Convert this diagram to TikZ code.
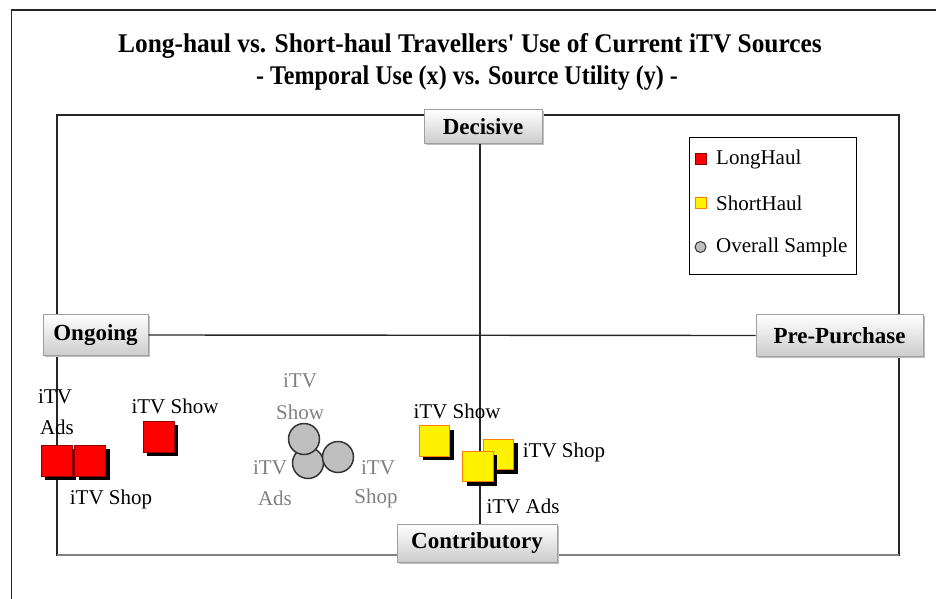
\documentclass[tikz,border=0pt]{standalone}
\usepackage{fontspec}
\setmainfont{Liberation Serif}[Ligatures=TeXOff]
\usetikzlibrary{shadows}
\begin{document}
\begin{tikzpicture}[x=1pt,y=-1pt,
  axbox/.style={draw=gray!75, line width=1pt, top color=white, bottom color=gray!40,
    font=\bfseries\fontsize{23}{23}\selectfont, inner sep=0pt,
    drop shadow={shadow xshift=1.5pt,shadow yshift=-1.5pt,fill=gray!50,opacity=1}},
  lhsq/.style={rectangle, fill=red, draw=red!55!black, line width=1pt, minimum size=31pt, inner sep=0pt,
    drop shadow={shadow xshift=4pt,shadow yshift=-4pt,fill=black,opacity=1}},
  shsq/.style={rectangle, fill=yellow, draw=orange, line width=1.3pt, minimum size=30.5pt, inner sep=0pt,
    drop shadow={shadow xshift=4pt,shadow yshift=-4pt,fill=black,opacity=1}},
  ovc/.style={circle, fill=gray!50, draw=black!80, line width=1.5pt, minimum size=31pt, inner sep=0pt},
  lbl/.style={font=\fontsize{21}{21}\selectfont, inner sep=0pt},
  glbl/.style={lbl, text=gray},
  legtxt/.style={font=\fontsize{21}{21}\selectfont, anchor=west, inner sep=0pt},
  ttl/.style={font=\bfseries\fontsize{27}{27}\selectfont, inner sep=0pt},
  axline/.style={line width=1.4pt, black!85}
]
\useasboundingbox (0,0) rectangle (936,599);
% outer frame
\draw[line width=1.6pt, black!85] (11.5,599) -- (11.5,10) -- (936,10);
% title
\node[ttl] (t1) at (470,46) {\scalebox{0.94}[1]{Long-haul vs. Short-haul Travellers' Use of Current iTV Sources}};
\node[ttl] (t2) at (467,78) {\scalebox{0.89}[1]{- Temporal Use (x) vs. Source Utility (y) -}};
% plot frame
\draw[line width=1.2pt, black!85] (57,115) rectangle (899,555);
\draw[line width=1.6pt, gray] (57,555) -- (899,555);
% legend
\node[draw, line width=0.9pt, minimum width=167pt, minimum height=137pt, anchor=north west, inner sep=0pt] (leg) at (689,137) {};
\node[rectangle, fill=red, draw=red!55!black, line width=1pt, minimum size=11pt, inner sep=0pt] (legLH) at (700.5,158.5) {};
\node[legtxt] (legLHt) at (716,159) {LongHaul};
\node[rectangle, fill=yellow, draw=orange, line width=1pt, minimum size=11pt, inner sep=0pt] (legSH) at (700.5,203) {};
\node[legtxt] (legSHt) at (716,203) {ShortHaul};
\node[circle, fill=gray!50, draw=black!80, line width=1pt, minimum size=11pt, inner sep=0pt] (legOV) at (700.5,247) {};
\node[legtxt] (legOVt) at (716,247) {Overall Sample};
% axis boxes
\node[axbox, minimum width=118pt, minimum height=33pt] (dec) at (483,126.5) {Decisive};
\node[axbox, minimum width=105pt, minimum height=41pt] (ong) at (95.5,335) {Ongoing};
\node[axbox, minimum width=167pt, minimum height=42pt] (pre) at (839.5,335.5) {Pre-Purchase};
\node[axbox, minimum width=160pt, minimum height=38pt] (con) at (477,543) {Contributory};
% axes
\coordinate (vx) at (480,0);
\draw[axline] (dec.south -| vx) -- (con.north -| vx);
\draw[axline] (ong.east) -- (pre.west);
% Long haul
\node[lhsq] (lhAds) at (56.5,460.5) {};
\node[lhsq] (lhShop) at (90,460.5) {};
\node[lhsq] (lhShow) at (158.5,436.5) {};
\node[lbl] (lhAdsA) at (55,397) {iTV};
\node[lbl] (lhAdsB) at (57,427) {Ads};
\node[lbl] (lhShowL) at (175,406) {iTV Show};
\node[lbl] (lhShopL) at (111,499) {iTV Shop};
% Overall sample
\node[ovc] (ovAds) at (308,463) {};
\node[ovc] (ovShop) at (338,457) {};
\node[ovc] (ovShow) at (304,439) {};
\node[glbl] (ovShowA) at (300,381) {iTV};
\node[glbl] (ovShowB) at (300,412) {Show};
\node[glbl] (ovAdsA) at (270,468) {iTV};
\node[glbl] (ovAdsB) at (275,498) {Ads};
\node[glbl] (ovShopA) at (378,468) {iTV};
\node[glbl] (ovShopB) at (376,498) {Shop};
% Short haul
\node[shsq] (shShow) at (434.5,441) {};
\node[shsq] (shShop) at (498.5,454.5) {};
\node[shsq] (shAds) at (478,466.5) {};
\node[lbl] (shShowL) at (457,411) {iTV Show};
\node[lbl] (shShopL) at (564,452) {iTV Shop};
\node[lbl] (shAdsL) at (523,506) {iTV Ads};
\end{tikzpicture}
\end{document}
